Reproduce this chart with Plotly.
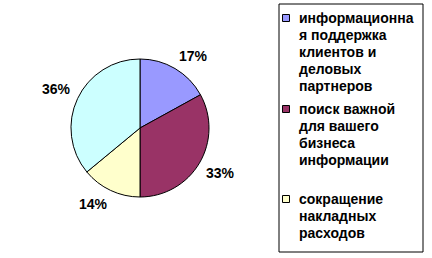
import math
import plotly.graph_objects as go

# ---- data ----
categories = [
    "информационная поддержка клиентов и деловых партнеров",
    "поиск важной для вашего бизнеса информации",
    "сокращение накладных расходов",
    "прочее",
]
values = [17, 33, 14, 36]
colors = ["#9999FF", "#993366", "#FFFFCC", "#CCFFFF"]
# legend lines as wrapped in the reference (4th entry is clipped off)
legend_lines = [
    ["информационна", "я поддержка", "клиентов и", "деловых", "партнеров"],
    ["поиск важной", "для вашего", "бизнеса", "информации"],
    ["сокращение", "накладных", "расходов"],
]

W, H = 432, 258
FONT = "Liberation Sans, Arial, sans-serif"


def px(x):
    return x / W


def py(y):
    return 1 - y / H


cx, cy, R = 140, 128, 69

fig = go.Figure()
fig.add_trace(go.Pie(
    labels=categories,
    values=values,
    marker=dict(colors=colors, line=dict(color="black", width=1)),
    sort=False,
    direction="clockwise",
    rotation=0,
    textinfo="none",
    hoverinfo="label+percent",
    showlegend=False,
    domain=dict(x=[px(cx - R), px(cx + R)], y=[py(cy + R), py(cy - R)]),
))

annotations = []
shapes = []

# percentage labels placed outside along slice mid-angles
total = sum(values)
cum = 0
for v in values:
    mid = (cum + v / 2) / total * 2 * math.pi
    cum += v
    s, c = math.sin(mid), math.cos(mid)
    lx = cx + 77 * s + 14 * (1 if s >= 0 else -1)
    ly = cy - 77 * c + 6 * (-1 if c >= 0 else 1)
    annotations.append(dict(
        x=px(lx), y=py(ly), xref="paper", yref="paper",
        text=f"<b>{round(v / total * 100)}%</b>", showarrow=False,
        xanchor="center", yanchor="middle",
        font=dict(family=FONT, size=14, color="black"),
    ))

# legend box
shapes.append(dict(type="rect", xref="paper", yref="paper",
                   x0=px(279), x1=px(423), y0=py(252), y1=py(4),
                   line=dict(color="black", width=1), fillcolor="white",
                   layer="below"))

entry_tops = [15, 106, 196]
line_h = 17
for i, lines in enumerate(legend_lines):
    top = entry_tops[i]
    shapes.append(dict(type="rect", xref="paper", yref="paper",
                       x0=px(282.5), x1=px(289.5), y0=py(top + 6.5), y1=py(top - 0.5),
                       line=dict(color="black", width=1), fillcolor=colors[i]))
    for j, t in enumerate(lines):
        annotations.append(dict(
            x=px(297), y=py(top + j * line_h + 3), xref="paper", yref="paper",
            text=f"<b>{t}</b>", showarrow=False,
            xanchor="left", yanchor="middle",
            font=dict(family=FONT, size=14, color="black"),
        ))

fig.update_layout(
    width=W, height=H,
    margin=dict(l=0, r=0, t=0, b=0),
    paper_bgcolor="white", plot_bgcolor="white",
    annotations=annotations, shapes=shapes,
    showlegend=False,
)

fig.write_html("out.html")
